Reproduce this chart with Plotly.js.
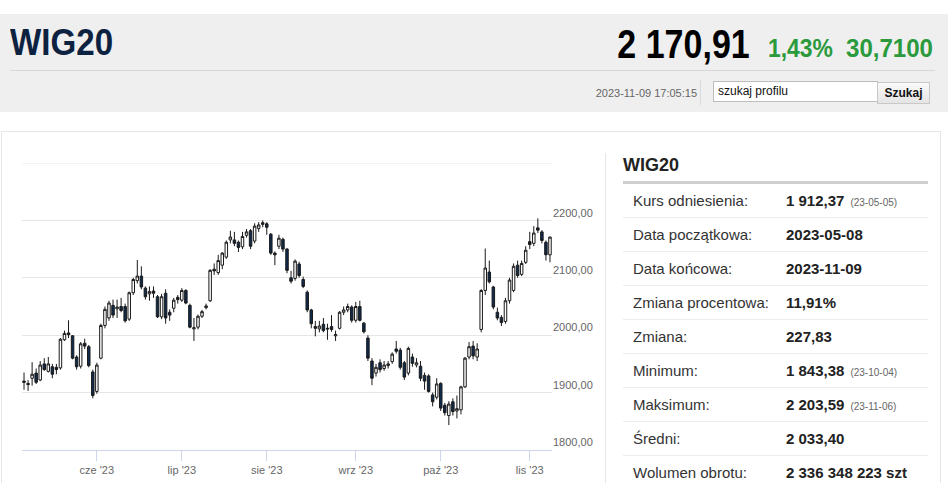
<!DOCTYPE html>
<html><head><meta charset="utf-8">
<script src="https://cdn.plot.ly/plotly-3.0.1.min.js"></script>
<style>
body{margin:0;width:948px;height:483px;overflow:hidden;background:#fff;font-family:"Liberation Sans",Arial,sans-serif;position:relative}
.abs{position:absolute;white-space:nowrap;line-height:1}
.band{position:absolute;left:0;top:14px;width:948px;height:98px;background:#efefef}
.hd{font-family:"Liberation Sans",Arial,sans-serif;font-weight:bold}
#ttl{left:10px;top:25px;font-size:36px;color:#0d2240;transform:scaleX(0.92);transform-origin:left center}
#price{right:198px;top:24px;font-size:40px;color:#000;transform:scaleX(0.85);transform-origin:right center}
#pct{left:768px;top:35px;font-size:26px;color:#2a9a3c;transform:scaleX(0.88);transform-origin:left center}
#chg{right:15px;top:35px;font-size:26px;color:#2a9a3c;transform:scaleX(0.925);transform-origin:right center}
.hline{position:absolute;left:10px;top:70px;width:925px;height:1px;background:#d8d8d8}
#ts{right:251px;top:88px;font-size:11px;color:#666}
.vsep{position:absolute;left:700px;top:80px;width:1px;height:25px;background:#dadada}
.inp{position:absolute;left:713px;top:81px;width:159px;height:19px;border:1px solid #bdbdbd;background:#fff;font-size:12px;line-height:19px;padding-left:4px;box-sizing:content-box;color:#111}
.btn{position:absolute;left:877px;top:82px;width:51px;height:20px;border:1px solid #c8c8c8;background:linear-gradient(#fafafa,#e4e4e4);font-size:12px;font-weight:bold;line-height:20px;text-align:center;color:#111}
.outer{position:absolute;left:1px;top:131px;width:938px;height:400px;border:1px solid #e6e6e6}
.inner{position:absolute;left:12px;top:153px;width:592px;height:400px;border:1px solid #e6e6e6}
#chart{position:absolute;left:12px;top:153px;width:593px;height:330px}
#th{left:623px;top:156px;font-size:18px;font-weight:bold;color:#222}
.thline{position:absolute;left:623px;top:181px;width:305px;height:3px;background:#cfcfcf}
.row{position:absolute;left:623px;width:305px;height:34px;border-bottom:1px solid #ececec;box-sizing:border-box;font-size:15px;line-height:34px;color:#333}
.row .l{position:absolute;left:10px}
.row .v{position:absolute;left:163px;font-weight:bold;color:#222}
.row .d{font-size:10px;color:#666;font-weight:normal;margin-left:6px}
</style></head><body>
<div class="band"></div>
<div class="abs hd" id="ttl">WIG20</div>
<div class="abs hd" id="price">2 170,91</div>
<div class="abs hd" id="pct">1,43%</div>
<div class="abs hd" id="chg">30,7100</div>
<div class="hline"></div>
<div class="abs" id="ts">2023-11-09 17:05:15</div>
<div class="vsep"></div>
<div class="inp">szukaj profilu</div>
<div class="btn">Szukaj</div>
<div class="outer"></div>
<div class="inner"></div>
<div id="chart"></div>
<div class="abs" id="th">WIG20</div>
<div class="thline"></div>
<div id="rows"></div>
<script>
const dates = [
'2023-05-08','2023-05-09','2023-05-10','2023-05-11','2023-05-12','2023-05-15','2023-05-16','2023-05-17','2023-05-18','2023-05-19','2023-05-22','2023-05-23','2023-05-24','2023-05-25','2023-05-26','2023-05-29','2023-05-30','2023-05-31',
'2023-06-01','2023-06-02','2023-06-05','2023-06-06','2023-06-07','2023-06-09','2023-06-12','2023-06-13','2023-06-14','2023-06-15','2023-06-16','2023-06-19','2023-06-20','2023-06-21','2023-06-22','2023-06-23','2023-06-26','2023-06-27','2023-06-28','2023-06-29','2023-06-30',
'2023-07-03','2023-07-04','2023-07-05','2023-07-06','2023-07-07','2023-07-10','2023-07-11','2023-07-12','2023-07-13','2023-07-14','2023-07-17','2023-07-18','2023-07-19','2023-07-20','2023-07-21','2023-07-24','2023-07-25','2023-07-26','2023-07-27','2023-07-28','2023-07-31',
'2023-08-01','2023-08-02','2023-08-03','2023-08-04','2023-08-07','2023-08-08','2023-08-09','2023-08-10','2023-08-11','2023-08-14','2023-08-16','2023-08-17','2023-08-18','2023-08-21','2023-08-22','2023-08-23','2023-08-24','2023-08-25','2023-08-28','2023-08-29','2023-08-30','2023-08-31',
'2023-09-01','2023-09-04','2023-09-05','2023-09-06','2023-09-07','2023-09-08','2023-09-11','2023-09-12','2023-09-13','2023-09-14','2023-09-15','2023-09-18','2023-09-19','2023-09-20','2023-09-21','2023-09-22','2023-09-25','2023-09-26','2023-09-27','2023-09-28','2023-09-29',
'2023-10-02','2023-10-03','2023-10-04','2023-10-05','2023-10-06','2023-10-09','2023-10-10','2023-10-11','2023-10-12','2023-10-13','2023-10-16','2023-10-17','2023-10-18','2023-10-19','2023-10-20','2023-10-23','2023-10-24','2023-10-25','2023-10-26','2023-10-27','2023-10-30','2023-10-31',
'2023-11-02','2023-11-03','2023-11-06','2023-11-07','2023-11-08','2023-11-09'];
const openV = [
1920,1916,1925,1934,1922,1950,1937,1945,1944,1943,
1992,2004,1999,1962,1946,1986,1980,1936,1902,1960,
2017,2030,2052,2046,2050,2050,2028,2074,2095,2103,
2082,2072,2077,2067,2032,2073,2040,2047,2066,2061,
2078,2052,2011,2014,2033,2048,2060,2115,2109,2122,
2136,2166,2166,2162,2154,2174,2182,2164,2186,2193,
2194,2176,2143,2155,2167,2150,2100,2099,2124,2097,
2075,2044,2015,2011,2019,2012,2015,1999,2012,2040,
2044,2049,2026,2050,2021,1995,1955,1934,1952,1942,
1947,1954,1976,1974,1952,1934,1962,1948,1946,1930,
1929,1896,1892,1916,1878,1860,1884,1868,1870,1910,
1962,1981,1962,2010,2078,2110,2084,2040,2031,2024,
2060,2078,2122,2106,2127,2163,2160,2187,2180,2162,
2140];
const highV = [
1935,1922,1953,1942,1955,1960,1962,1950,1950,1995,
2008,2026,2000,1965,1988,1994,1983,1940,1952,2020,
2050,2060,2062,2062,2065,2055,2076,2100,2131,2120,
2085,2085,2085,2070,2072,2080,2045,2065,2070,2082,
2080,2055,2030,2036,2044,2055,2115,2125,2140,2145,
2165,2182,2180,2165,2180,2185,2185,2195,2197,2200,
2197,2178,2146,2175,2170,2152,2112,2132,2128,2102,
2078,2046,2025,2025,2030,2020,2035,2008,2042,2050,
2055,2052,2058,2060,2023,2000,1960,1950,1958,1955,
1955,1970,1990,1978,1955,1980,1968,1960,1955,1935,
1932,1900,1925,1918,1882,1885,1890,1895,1912,1962,
1988,1990,1986,2080,2151,2130,2086,2048,2035,2065,
2100,2125,2130,2130,2155,2180,2190,2203.59,2183,2165,
2172];
const lowV = [
1905,1903,1912,1915,1920,1938,1935,1925,1932,1940,
1990,1995,1958,1940,1942,1976,1944,1890,1898,1958,
2012,2025,2030,2030,2040,2022,2025,2070,2090,2080,
2062,2060,2065,2030,2028,2020,2025,2040,2055,2058,
2054,2012,1990,2010,2030,2045,2058,2105,2105,2115,
2133,2160,2155,2145,2150,2170,2150,2160,2180,2188,
2175,2140,2122,2150,2145,2108,2090,2095,2100,2082,
2040,2012,1998,2005,2005,1992,2006,1990,2010,2035,
2040,2022,2022,2024,2003,1955,1913,1928,1935,1938,
1942,1950,1968,1940,1922,1930,1945,1944,1920,1905,
1900,1876,1888,1868,1860,1843.38,1860,1855,1862,1908,
1958,1958,1955,2005,2070,2090,2045,2026,2016,2020,
2055,2075,2100,2103,2124,2150,2155,2178,2160,2130,
2127];
const closeV = [
1918,1914,1932,1918,1948,1940,1950,1932,1940,1993,
2003,2001,1960,1945,1985,1981,1947,1895,1948,2017,
2045,2056,2035,2049,2043,2025,2074,2097,2103,2084,
2067,2076,2073,2032,2067,2030,2035,2061,2062,2078,
2056,2014,2013,2033,2041,2051,2113,2112,2130,2143,
2162,2171,2160,2153,2172,2180,2155,2190,2192,2196,
2188,2143,2140,2169,2150,2113,2094,2129,2104,2085,
2044,2020,2012,2016,2008,2011,2010,2001,2040,2044,
2050,2026,2050,2026,2006,1960,1925,1944,1940,1948,
1950,1967,1972,1944,1927,1977,1951,1952,1925,1920,
1902,1884,1915,1873,1865,1880,1867,1872,1910,1960,
1980,1964,1976,2078,2117,2093,2049,2030,2022,2060,
2096,2120,2104,2125,2148,2158,2178,2183,2165,2140.2,
2170.91];
const xTickVals = ['2023-06-01','2023-07-03','2023-08-01','2023-09-01','2023-10-02','2023-11-02'];
const xTickText = ["cze '23","lip '23","sie '23","wrz '23","paź '23","lis '23"];
const yTickVals = [1800,1900,2000,2100,2200,2300];
const yTickText = ['1800,00','1900,00','2000,00','2100,00','2200,00',''];
const rowLabels = ['Kurs odniesienia:','Data początkowa:','Data końcowa:','Zmiana procentowa:','Zmiana:','Minimum:','Maksimum:','Średni:','Wolumen obrotu:'];
const rowValues = ['1 912,37','2023-05-08','2023-11-09','11,91%','227,83','1 843,38','2 203,59','2 033,40','2 336 348 223 szt'];
const rowDates = ['(23-05-05)','','','','','(23-10-04)','(23-11-06)','',''];

const rowsEl = document.getElementById('rows');
rowLabels.forEach((lab, i) => {
  const r = document.createElement('div');
  r.className = 'row';
  r.style.top = (184 + i * 34) + 'px';
  if (i === rowLabels.length - 1) r.style.borderBottom = 'none';
  r.innerHTML = '<span class="l"></span><span class="v"></span>';
  r.querySelector('.l').textContent = lab;
  const v = r.querySelector('.v');
  v.textContent = rowValues[i];
  if (rowDates[i]) { const d = document.createElement('span'); d.className = 'd'; d.textContent = rowDates[i]; v.appendChild(d); }
  rowsEl.appendChild(r);
});

const trace = {
  type: 'candlestick', x: dates, open: openV, high: highV, low: lowV, close: closeV,
  increasing: {line: {color: '#1a1a1a', width: 1}, fillcolor: '#ffffff'},
  decreasing: {line: {color: '#1a1a1a', width: 1}, fillcolor: '#0e2a4c'},
  whiskerwidth: 0, hoverinfo: 'skip', showlegend: false
};
const layout = {
  width: 593, height: 330,
  margin: {l: 10, r: 53, t: 10, b: 33},
  paper_bgcolor: '#fff', plot_bgcolor: '#fff',
  showlegend: false,
  boxgap: 0.12,
  shapes: [{type: 'line', xref: 'paper', x0: 0, x1: 1, yref: 'y', y0: yTickVals[yTickVals.length - 1], y1: yTickVals[yTickVals.length - 1], line: {color: '#e6e6e6', width: 1}, layer: 'below'}],
  xaxis: {
    type: 'category', range: [-0.5, dates.length - 0.5],
    tickvals: xTickVals, ticktext: xTickText,
    ticks: 'outside', ticklen: 10, tickcolor: '#ccd6eb', tickwidth: 1,
    showgrid: false, showline: true, linecolor: '#ccd6eb', linewidth: 1,
    tickfont: {family: 'Liberation Sans, Arial, sans-serif', size: 11, color: '#666'},
    rangeslider: {visible: false}, fixedrange: true
  },
  yaxis: {
    side: 'right', range: [1800, 2300],
    tickvals: yTickVals, ticktext: yTickText,
    ticklabelposition: 'outside top',
    showgrid: true, gridcolor: '#e6e6e6', gridwidth: 1,
    zeroline: false, showline: false, ticks: '',
    tickfont: {family: 'Liberation Sans, Arial, sans-serif', size: 11, color: '#666'},
    fixedrange: true
  }
};
Plotly.newPlot('chart', [trace], layout, {displayModeBar: false, staticPlot: true});
</script>
</body></html>
